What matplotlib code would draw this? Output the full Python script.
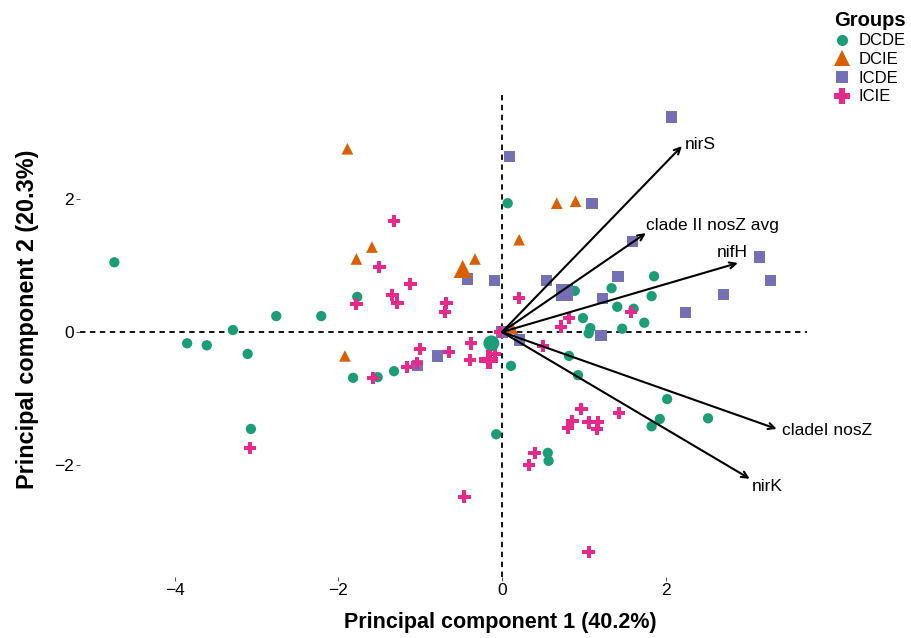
import matplotlib
matplotlib.use("Agg")
import matplotlib.pyplot as plt
from matplotlib.lines import Line2D

plt.rcParams['font.family'] = ['Liberation Sans', 'DejaVu Sans']

# PCA scores per group (PC1, PC2)
dcde_x = [-4.74, -3.85, -3.61, -3.29, -3.11, -3.07, -2.76, -2.21, -1.77, -1.82, -1.52, -1.32,
          0.07, 0.11, -0.07, 0.56, 0.57, 0.82, 0.93, 2.02, 1.93, 1.83, 2.52, 0.89, 1.34, 1.86,
          1.83, 1.41, 1.61, 0.99, 1.74, 1.08, 1.06, 1.47]
dcde_y = [1.05, -0.17, -0.20, 0.03, -0.33, -1.46, 0.24, 0.24, 0.53, -0.69, -0.68, -0.59,
          1.94, -0.51, -1.54, -1.82, -1.94, -0.36, -0.65, -1.01, -1.31, -1.42, -1.30, 0.62, 0.66, 0.84,
          0.54, 0.38, 0.35, 0.21, 0.14, 0.06, -0.02, 0.05]

dcie_x = [-1.89, 0.67, 0.90, 0.21, -1.59, -1.78, -0.33, -1.92, 0.13]
dcie_y = [2.76, 1.94, 1.97, 1.39, 1.28, 1.10, 1.10, -0.36, 0.05]

icde_x = [2.07, 0.09, 1.10, 1.60, 3.15, 3.28, 2.71, 2.24, 1.42, 1.23, 0.54, -0.42, -0.09,
          -0.79, -1.03, 0.21, 1.21, 0.0]
icde_y = [3.24, 2.64, 1.93, 1.36, 1.13, 0.77, 0.57, 0.29, 0.84, 0.51, 0.78, 0.80, 0.77,
          -0.36, -0.51, -0.12, -0.05, 0.0]

icie_x = [-1.32, -1.50, -1.78, -1.12, -1.34, -1.28, -0.68, -0.70, 0.21, 0.82, 0.72, 1.58,
          -1.00, -0.65, -0.38, -0.39, -0.09, -1.16, -1.04, -1.58, 0.50, -0.02, -3.08, 0.97,
          0.86, 0.81, 1.06, 1.17, 1.16, 1.43, 0.40, 0.33, -0.46, 1.06]
icie_y = [1.67, 0.98, 0.42, 0.72, 0.56, 0.44, 0.44, 0.30, 0.51, 0.21, 0.08, 0.30,
          -0.26, -0.30, -0.17, -0.42, -0.33, -0.53, -0.47, -0.69, -0.21, 0.0, -1.75, -1.16,
          -1.34, -1.45, -1.36, -1.36, -1.46, -1.22, -1.82, -2.00, -2.48, -3.31]

# group means
groups = ['DCDE', 'DCIE', 'ICDE', 'ICIE']
mean_x = [-0.13, -0.48, 0.77, -0.16]
mean_y = [-0.17, 0.95, 0.60, -0.42]

# loadings (arrow tips)
var_names = ['nirS', 'clade II nosZ avg', 'nifH', 'cladeI nosZ', 'nirK']
load_x = [2.20, 1.76, 2.885, 3.36, 3.03]
load_y = [2.80, 1.49, 1.04, -1.46, -2.21]

colors = ['#1B9E77', '#D95F02', '#7570B3', '#E7298A']
markers = ['o', '^', 's', 'P']
sizes = [55, 70, 65, 80]
big_sizes = [130, 170, 150, 190]

fig = plt.figure(figsize=(9.12, 6.38), dpi=100)
ax = fig.add_axes([80 / 912, 1 - 577 / 638, 727 / 912, 482 / 638])
ax.set_xlim(-5.16, 3.73)
ax.set_ylim(-3.69, 3.57)

ax.axhline(0, color='black', ls=(0, (3, 2.5)), lw=1.3, zorder=1)
ax.axvline(0, color='black', ls=(0, (3, 2.5)), lw=1.3, zorder=1)

data = [(dcde_x, dcde_y), (dcie_x, dcie_y), (icde_x, icde_y), (icie_x, icie_y)]
for i, (xs, ys) in enumerate(data):
    ax.scatter(xs, ys, s=sizes[i], marker=markers[i], color=colors[i],
               edgecolors='none', zorder=2)
for i in range(4):
    ax.scatter(mean_x[i], mean_y[i], s=big_sizes[i], marker=markers[i], color=colors[i],
               edgecolors='none', zorder=3)

for name, lx, ly in zip(var_names, load_x, load_y):
    ax.annotate('', xy=(lx, ly), xytext=(0, 0),
                arrowprops=dict(arrowstyle='->,head_length=0.45,head_width=0.22',
                                color='black', lw=1.5, shrinkA=0, shrinkB=0), zorder=4)

# variable names next to arrow tips
ax.text(load_x[0] + 0.03, load_y[0] + 0.02, var_names[0], fontsize=12.5, ha='left', va='center')
ax.text(load_x[1] + 0.0, load_y[1] + 0.12, var_names[1], fontsize=12.5, ha='left', va='center')
ax.text(load_x[2] - 0.07, load_y[2] + 0.16, var_names[2], fontsize=12.5, ha='center', va='center')
ax.text(load_x[3] + 0.07, load_y[3] - 0.02, var_names[3], fontsize=12.5, ha='left', va='center')
ax.text(load_x[4] + 0.02, load_y[4] - 0.12, var_names[4], fontsize=12.5, ha='left', va='center')

for s in ax.spines.values():
    s.set_visible(False)
ax.set_xticks([-4, -2, 0, 2])
ax.set_yticks([-2, 0, 2])
ax.set_xticklabels(['\u22124', '\u22122', '0', '2'])
ax.set_yticklabels(['\u22122', '0', '2'])
ax.tick_params(length=3, width=0.6, color='#333333', labelsize=12.5, pad=1.5)

ax.set_xlabel('Principal component 1 (40.2%)', fontsize=15.5, fontweight='bold')
ax.set_ylabel('Principal component 2 (20.3%)', fontsize=16.8, fontweight='bold')
ax.xaxis.set_label_coords(0.578, -0.072)
ax.yaxis.set_label_coords(-0.056, 0.534)

handles = [Line2D([], [], marker=markers[i], color=colors[i], ls='none',
                  markersize=[8, 11, 9, 11][i], markeredgewidth=0) for i in range(4)]
leg = fig.legend(handles, groups, loc='upper left', bbox_to_anchor=(822 / 912, 1 + 1 / 638),
                 frameon=False, fontsize=12, title='Groups',
                 title_fontproperties={'weight': 'bold', 'size': 14.5},
                 handlelength=1.0, handletextpad=0.5, labelspacing=0.22,
                 borderpad=0.2, alignment='left')

fig.savefig('out.png', dpi=100)
